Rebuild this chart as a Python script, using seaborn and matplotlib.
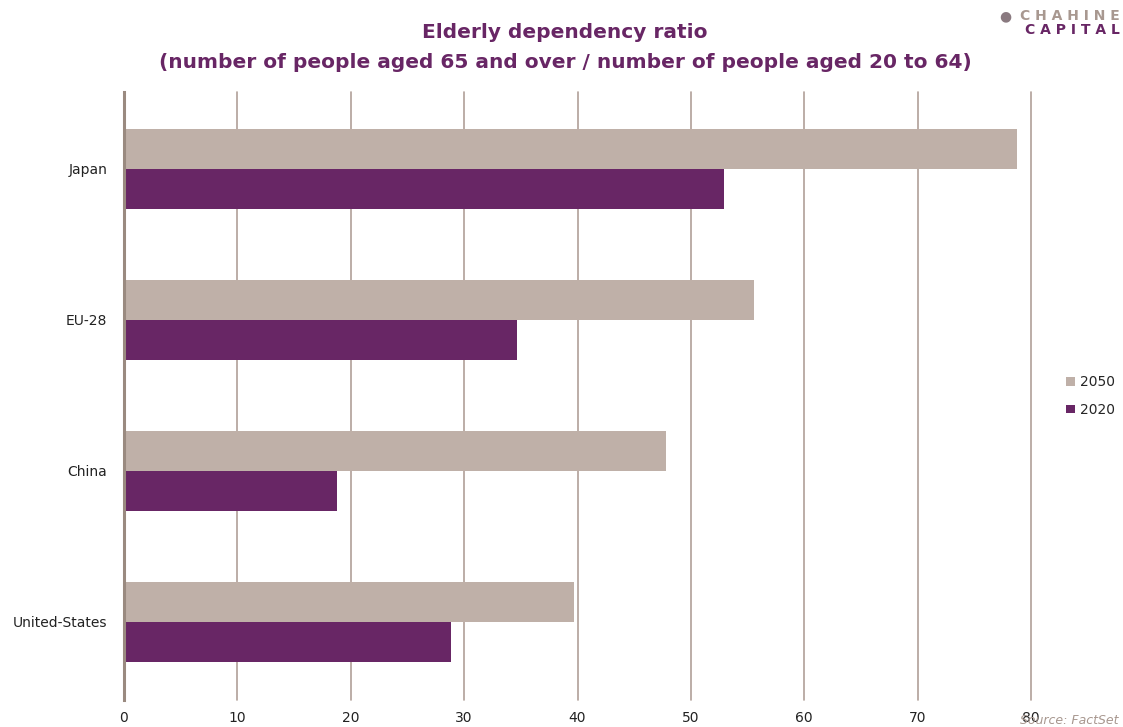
import matplotlib
matplotlib.use("Agg")
import matplotlib.pyplot as plt
import seaborn as sns
import pandas as pd

countries = ["Japan", "EU-28", "China", "United-States"]
ratio_2050 = [78.8, 55.6, 47.8, 39.7]
ratio_2020 = [52.9, 34.7, 18.8, 28.8]
years = ["2050", "2020"]
x_ticks = [0, 10, 20, 30, 40, 50, 60, 70, 80]

df = pd.DataFrame({
    "country": countries * 2,
    "value": ratio_2050 + ratio_2020,
    "year": ["2050"] * len(countries) + ["2020"] * len(countries),
})

sns.set_theme(style="white")
plt.rcParams['font.family'] = ['DejaVu Sans']

fig = plt.figure(figsize=(11.23, 7.27), dpi=100)
ax = fig.add_axes([124/1123, 1-700/727, (1031-124)/1123, (700-92)/727])

purple = "#682665"
beige = "#bfb0a8"
sns.barplot(data=df, y="country", x="value", hue="year", hue_order=years,
            palette={"2050": beige, "2020": purple}, orient="h", width=0.53,
            ax=ax, saturation=1, legend=True, linewidth=0)

ax.set_xlim(0, 80)
ax.set_ylim(3.52, -0.51)
ax.set_xticks(x_ticks)
ax.set_xticklabels([str(t) for t in x_ticks], fontsize=10, color="#222222")
ax.tick_params(axis="x", length=0, pad=8)
ax.tick_params(axis="y", length=0, pad=12, labelsize=10, labelcolor="#222222")
ax.set_xlabel("")
ax.set_ylabel("")
ax.grid(axis="x", color="#b0a098", linewidth=1.2)
for gl in ax.get_xgridlines():
    gl.set_clip_on(False)
ax.set_axisbelow(True)
for s in ["top", "right", "bottom"]:
    ax.spines[s].set_visible(False)
ax.spines["left"].set_color("#9a8a80")
ax.spines["left"].set_linewidth(2.2)

leg = ax.legend(loc="center left", bbox_to_anchor=(1.025, 0.5), frameon=False,
                fontsize=10, handlelength=0.6, handleheight=0.6, handletextpad=0.4,
                labelspacing=1.0)

fig.text(565/1123, 1-33/727, "Elderly dependency ratio", ha="center", va="center",
         fontsize=14.5, fontweight="bold", color=purple)
fig.text(565/1123, 1-62/727, "(number of people aged 65 and over / number of people aged 20 to 64)",
         ha="center", va="center", fontsize=14.5, fontweight="bold", color=purple)

fig.text(1120/1123, 1-16/727, "C H A H I N E", ha="right", va="center", fontsize=10,
         color="#a89890", fontweight="bold")
fig.text(1120/1123, 1-30/727, "C A P I T A L", ha="right", va="center", fontsize=10,
         color=purple, fontweight="bold")
fig.text(1005/1123, 1-16/727, "\u25CF", ha="center", va="center", fontsize=10,
         color="#8a7a80")
fig.text(1118/1123, 1-721/727, "Source: FactSet", ha="right", va="center", fontsize=9,
         color="#a89890", style="italic")

fig.savefig("out.png", dpi=100)
